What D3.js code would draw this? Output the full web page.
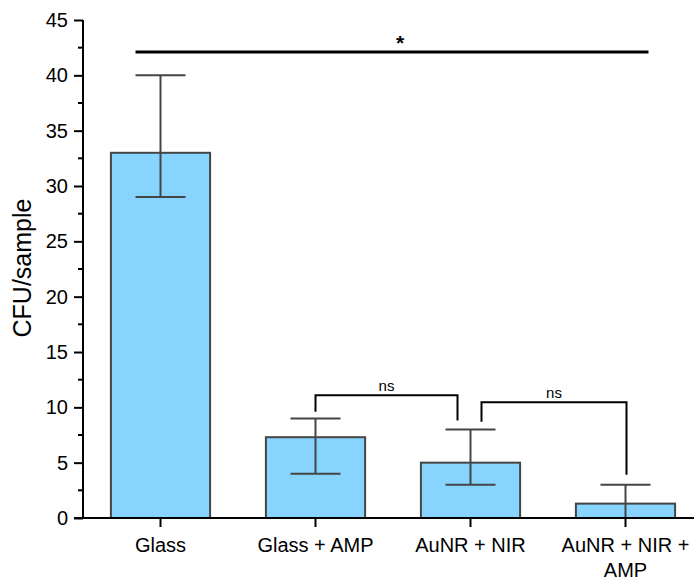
<!DOCTYPE html>
<html>
<head>
<meta charset="utf-8">
<script src="https://cdn.jsdelivr.net/npm/d3@7"></script>
<style>
  body { margin: 0; background: #fff; }
  text { font-family: "Liberation Sans", Arial, sans-serif; }
</style>
</head>
<body>
<div id="chart"></div>
<script>
// data
const categories = ["Glass", "Glass + AMP", "AuNR + NIR", "AuNR + NIR + AMP"];
const labelLines = [["Glass"], ["Glass + AMP"], ["AuNR + NIR"], ["AuNR + NIR +", "AMP"]];
const means = [33, 7.3, 5, 1.3];
const errLow = [29, 4, 3, -0.4];
const errHigh = [40, 9, 8, 3];
const yTicks = [0, 5, 10, 15, 20, 25, 30, 35, 40, 45];

// significance brackets: from bar, to bar, top value, left/right leg ends, x offsets
const brackets = [
    {a: 1, b: 2, top: 11.1, l: 9.6, r: 8.8, dl: 0, dr: -13, label: "ns"},
    {a: 2, b: 3, top: 10.45, l: 8.7, r: 3.9, dl: 11, dr: 1, label: "ns"}
];
const starLine = {a: 0, b: 3, y: 42.1, label: "*"};

const width = 694, height = 579;
const mLeft = 83, mBottom = 518, mTop = 20;

const svg = d3.select("#chart").append("svg")
    .attr("width", width)
    .attr("height", height);

const x = d3.scaleBand()
    .domain(categories)
    .range([mLeft, mLeft + 620])
    .paddingInner(0.36)
    .paddingOuter(0.18);

const y = d3.scaleLinear()
    .domain([0, 45])
    .range([mBottom, mTop]);

const cx = function(i) { return x(categories[i]) + x.bandwidth() / 2; };

// bars
svg.append("g")
    .selectAll("rect")
    .data(means)
    .enter().append("rect")
    .attr("x", function(d, i) { return x(categories[i]); })
    .attr("y", function(d) { return y(d); })
    .attr("width", x.bandwidth())
    .attr("height", function(d) { return y(0) - y(d); })
    .attr("fill", "#87d4fe")
    .attr("stroke", "#454545")
    .attr("stroke-width", 2);

// error bars
const errG = svg.append("g")
    .attr("stroke", "#454545")
    .attr("stroke-width", 2);
const capW = 25;
means.forEach(function(m, i) {
    const c = cx(i);
    const lo = Math.max(errLow[i], 0);
    errG.append("line")
        .attr("x1", c).attr("x2", c)
        .attr("y1", y(errHigh[i])).attr("y2", y(lo));
    errG.append("line")
        .attr("x1", c - capW).attr("x2", c + capW)
        .attr("y1", y(errHigh[i])).attr("y2", y(errHigh[i]));
    if (errLow[i] >= 0) {
        errG.append("line")
            .attr("x1", c - capW).attr("x2", c + capW)
            .attr("y1", y(errLow[i])).attr("y2", y(errLow[i]));
    }
});

// y axis
const yAxis = svg.append("g")
    .attr("transform", `translate(${mLeft},0)`)
    .call(d3.axisLeft(y).tickValues(yTicks).tickSize(9).tickSizeOuter(0).tickPadding(6));
yAxis.selectAll("text").attr("font-size", 20).attr("fill", "#000")
    .style("font-family", "'Liberation Sans', Arial, sans-serif");
yAxis.selectAll("line, path").attr("stroke", "#000").attr("stroke-width", 2);
yAxis.select(".domain").attr("d", `M0,${y(45)}V${y(0)}`);

// minor ticks
svg.append("g")
    .selectAll("line")
    .data(d3.range(2.5, 45, 5))
    .enter().append("line")
    .attr("x1", mLeft - 5).attr("x2", mLeft)
    .attr("y1", function(d) { return y(d); })
    .attr("y2", function(d) { return y(d); })
    .attr("stroke", "#000")
    .attr("stroke-width", 2);

// x axis
const xAxis = svg.append("g")
    .attr("transform", `translate(0,${mBottom})`)
    .call(d3.axisBottom(x).tickSize(9).tickSizeOuter(0).tickFormat(""));
xAxis.selectAll("line, path").attr("stroke", "#000").attr("stroke-width", 2);
xAxis.select(".domain").attr("d", `M${mLeft - 9},0H${width}`);

const xl = svg.append("g");
labelLines.forEach(function(lines, i) {
    const t = xl.append("text")
        .attr("x", cx(i))
        .attr("y", 552)
        .attr("text-anchor", "middle")
        .attr("font-size", 20)
        .attr("fill", "#000");
    lines.forEach(function(s, k) {
        t.append("tspan").attr("x", cx(i)).attr("dy", k === 0 ? 0 : 25).text(s);
    });
});

// y label
svg.append("text")
    .attr("transform", `translate(31,268) rotate(-90)`)
    .attr("text-anchor", "middle")
    .attr("font-size", 25)
    .attr("fill", "#000")
    .text("CFU/sample");

// significance line with star
svg.append("line")
    .attr("x1", cx(starLine.a) - 25).attr("x2", cx(starLine.b) + 23)
    .attr("y1", y(starLine.y)).attr("y2", y(starLine.y))
    .attr("stroke", "#000").attr("stroke-width", 3);
svg.append("text")
    .attr("x", (cx(starLine.a) + cx(starLine.b)) / 2 + 7)
    .attr("y", y(starLine.y) - 2)
    .attr("text-anchor", "middle")
    .attr("font-size", 21)
    .attr("font-weight", "bold")
    .attr("fill", "#000")
    .text(starLine.label);

// ns brackets
brackets.forEach(function(b) {
    const x1 = cx(b.a) + b.dl, x2 = cx(b.b) + b.dr;
    svg.append("path")
        .attr("d", `M${x1},${y(b.l)}V${y(b.top)}H${x2}V${y(b.r)}`)
        .attr("fill", "none")
        .attr("stroke", "#000")
        .attr("stroke-width", 2);
    svg.append("text")
        .attr("x", (x1 + x2) / 2)
        .attr("y", y(b.top) - 4)
        .attr("text-anchor", "middle")
        .attr("font-size", 15)
        .attr("fill", "#000")
        .text(b.label);
});
</script>
</body>
</html>
